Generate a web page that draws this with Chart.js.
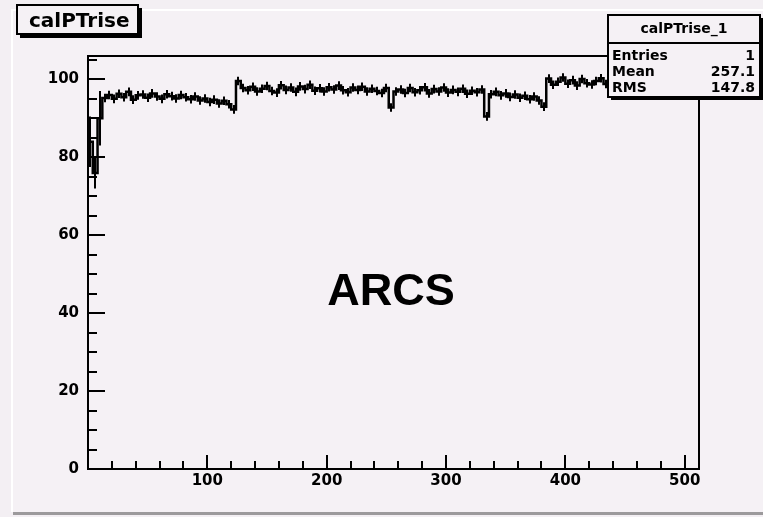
<!DOCTYPE html>
<html>
<head>
<meta charset="utf-8">
<title>calPTrise</title>
<script src="https://cdn.jsdelivr.net/npm/chart.js@4.4.1/dist/chart.umd.min.js"></script>
<style>
  html, body { margin: 0; padding: 0; background: #f3eff3; overflow: hidden; }
  #wrap { width: 763px; height: 517px; }
</style>
</head>
<body>
<div id="wrap"><canvas id="ptChart" width="763" height="517"></canvas></div>
<script>
// histogram: 128 bins of width 4 over 0..512
const binWidth = 4;
const xMin = 0, xMax = 512;
const yMin = 0, yMax = 106;

const ptRise = [
  84.0, 76.0, 90.0,
  95.2, 96.0, 95.0, 96.3, 95.4, 96.8, 94.8, 95.9, 96.1, 95.3, 96.4, 95.6, 95.0, 96.2,
  95.7, 95.1, 96.0, 95.4, 94.9, 95.6, 94.6, 95.1, 94.2, 94.8, 93.8, 94.5, 93.6, 92.3,
  99.6, 97.8, 97.2, 98.1, 96.9, 97.6, 98.3, 97.0, 96.6, 98.5, 97.3, 97.9, 96.8, 98.2, 97.5, 98.6,
  97.1, 97.7, 96.9, 98.0, 97.4, 98.4, 97.2, 96.7, 97.9, 97.3, 98.1, 96.9, 97.6, 97.0, 96.5, 97.8,
  92.8, 96.9, 97.4, 96.5, 97.8, 96.7, 97.2, 98.0, 96.4, 97.5, 96.9, 97.9, 96.6, 97.3, 96.8, 97.6,
  96.3, 97.1, 96.7, 97.4, 90.5, 96.2, 96.8, 95.9, 96.4, 95.5, 96.1, 95.3, 95.8, 94.9, 95.6, 94.6, 93.0,
  100.2, 98.6, 99.4, 100.5, 98.9, 99.8, 98.4, 100.1, 99.0, 98.7, 99.6, 100.3, 98.8, 99.3, 98.5, 99.9,
  99.1, 98.6, 99.7, 100.2, 98.9, 99.4, 98.7, 99.8, 99.2, 98.5, 99.6, 100.0, 98.8, 99.3, 99.0, 99.5
];
// error bars: the first bins are wide, the rest about the same size
const ptErrLead = [6.5, 4.0, 7.0];
const ptErrTypical = 1.1;

const xTicks = [100, 200, 300, 400, 500];
const yTicks = [0, 20, 40, 60, 80, 100];

const histName = "calPTrise";
const statsTitle = "calPTrise_1";
const statLabels = ["Entries", "Mean", "RMS"];
const statValues = ["1", "257.1", "147.8"];
const centerLabel = "ARCS";

const padColor = "#f5f1f5";
const tickFont = { family: "'DejaVu Sans', sans-serif", size: 15, weight: "bold" };

// left edge of each bin, plus closing point at the upper edge
const points = ptRise.map((v, i) => ({ x: xMin + i * binWidth, y: v }));
points.push({ x: xMax, y: ptRise[ptRise.length - 1] });

const rootStyle = {
  id: "rootStyle",
  beforeDraw(chart) {
    const ctx = chart.ctx;
    const w = chart.width, h = chart.height;
    ctx.save();
    ctx.fillStyle = "#f3eff3";
    ctx.fillRect(0, 0, w, h);
    ctx.fillStyle = padColor;
    ctx.fillRect(13, 11, w - 13, 501);
    ctx.fillStyle = "#ffffff";
    ctx.fillRect(11, 9, w - 11, 2);
    ctx.fillRect(11, 9, 2, 503);
    ctx.fillStyle = "#9c9a9c";
    ctx.fillRect(13, 512, w - 13, 3);
    ctx.restore();
  },
  afterDatasetsDraw(chart) {
    const ctx = chart.ctx;
    const a = chart.chartArea;
    const xs = chart.scales.x, ys = chart.scales.y;
    ctx.save();
    ctx.strokeStyle = "#000";

    // error bars at bin centres
    ctx.lineWidth = 2;
    ctx.beginPath();
    ptRise.forEach((v, i) => {
      const err = i < ptErrLead.length ? ptErrLead[i] : ptErrTypical;
      const px = Math.round(xs.getPixelForValue(xMin + (i + 0.5) * binWidth));
      ctx.moveTo(px, ys.getPixelForValue(v + err));
      ctx.lineTo(px, ys.getPixelForValue(v - err));
    });
    ctx.stroke();

    ctx.strokeRect(a.left, a.top, a.right - a.left, a.bottom - a.top);

    ctx.beginPath();
    for (let v = xMin + 20; v < xMax; v += 20) {
      const px = Math.round(xs.getPixelForValue(v));
      const len = v % 100 === 0 ? 14 : 8;
      ctx.moveTo(px, a.bottom);
      ctx.lineTo(px, a.bottom - len);
    }
    for (let v = yMin; v <= 105; v += 5) {
      const py = Math.round(ys.getPixelForValue(v));
      const len = v % 20 === 0 ? 17 : 9;
      ctx.moveTo(a.left, py);
      ctx.lineTo(a.left + len, py);
    }
    ctx.stroke();
    ctx.restore();
  },
  afterDraw(chart) {
    const ctx = chart.ctx;
    ctx.save();

    // name box, top left
    ctx.fillStyle = "#000";
    ctx.fillRect(20, 8, 122, 30);
    ctx.fillStyle = padColor;
    ctx.fillRect(17, 5, 121, 29);
    ctx.strokeStyle = "#000";
    ctx.lineWidth = 2;
    ctx.strokeRect(17, 5, 121, 29);
    ctx.fillStyle = "#000";
    ctx.font = "bold 20px 'DejaVu Sans', sans-serif";
    ctx.textBaseline = "alphabetic";
    ctx.textAlign = "left";
    ctx.fillText(histName, 29, 27);

    // stats box, top right
    const bx = 608, by = 15, bw = 152, bh = 82;
    ctx.fillRect(bx + 3, by + 3, bw, bh);
    ctx.fillStyle = padColor;
    ctx.fillRect(bx, by, bw, bh);
    ctx.strokeRect(bx, by, bw, bh);
    ctx.beginPath();
    ctx.moveTo(bx, 43);
    ctx.lineTo(bx + bw, 43);
    ctx.stroke();
    ctx.fillStyle = "#000";
    ctx.font = "bold 14px 'DejaVu Sans', sans-serif";
    ctx.textBaseline = "middle";
    ctx.textAlign = "center";
    ctx.fillText(statsTitle, bx + bw / 2, 29);
    const rowY = [56, 72, 88];
    statLabels.forEach((lab, i) => {
      ctx.textAlign = "left";
      ctx.fillText(lab, bx + 4, rowY[i]);
      ctx.textAlign = "right";
      ctx.fillText(statValues[i], bx + bw - 5, rowY[i]);
    });

    // big label in the plot
    ctx.font = "bold 45px 'Liberation Sans', Arial, sans-serif";
    ctx.textAlign = "center";
    ctx.textBaseline = "alphabetic";
    ctx.fillText(centerLabel, 391, 305);
    ctx.restore();
  }
};

new Chart(document.getElementById("ptChart"), {
  type: "line",
  data: {
    datasets: [{
      label: histName,
      data: points,
      stepped: true,
      borderColor: "#000",
      borderWidth: 2.5,
      pointRadius: 0,
      fill: false
    }]
  },
  options: {
    responsive: false,
    animation: false,
    devicePixelRatio: 1,
    layout: { padding: { left: 0, top: 56, right: 64, bottom: 0 } },
    plugins: {
      legend: { display: false },
      tooltip: { enabled: false },
      title: { display: false }
    },
    scales: {
      x: {
        type: "linear",
        min: xMin,
        max: xMax,
        grid: { display: false, drawTicks: false },
        border: { display: false },
        ticks: { font: tickFont, color: "#000", padding: 3, maxRotation: 0, autoSkip: false },
        afterBuildTicks(scale) { scale.ticks = xTicks.map(v => ({ value: v })); },
        afterFit(scale) { scale.height = 48; }
      },
      y: {
        type: "linear",
        min: yMin,
        max: yMax,
        grid: { display: false, drawTicks: false },
        border: { display: false },
        ticks: { font: tickFont, color: "#000", padding: 9, autoSkip: false },
        afterBuildTicks(scale) { scale.ticks = yTicks.map(v => ({ value: v })); },
        afterFit(scale) { scale.width = 88; }
      }
    }
  },
  plugins: [rootStyle]
});
</script>
</body>
</html>
